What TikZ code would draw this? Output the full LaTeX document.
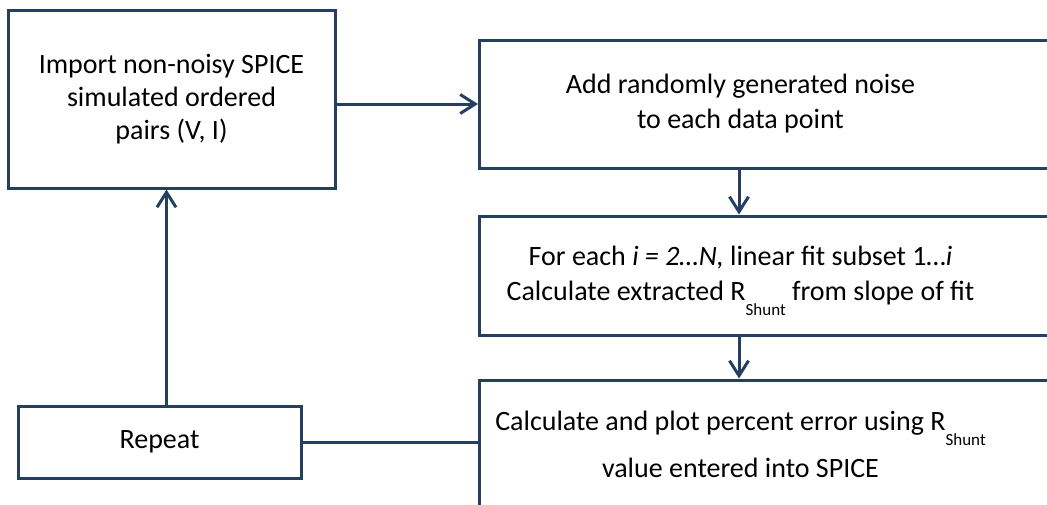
\documentclass[tikz,border=0pt]{standalone}
\usepackage{fontspec}
\setmainfont{Carlito}
\usepackage{tikz}
\usetikzlibrary{arrows.meta,positioning}
\definecolor{boxline}{HTML}{243F60}
\newcommand{\rtext}[1]{\parbox{522pt}{\centering #1}\hspace*{178pt}}
\newcommand{\shunt}{\smash{\raisebox{-15pt}{\fontsize{17}{17}\selectfont Shunt}}}

\begin{document}
\begin{tikzpicture}[x=1pt,y=-1pt,font=\fontsize{28}{35}\selectfont]
    \tikzstyle{box}=[rectangle,draw=boxline,line width=3pt,inner sep=0pt,text=black]
    \tikzstyle{left box}=[box,align=center,minimum width=327pt,minimum height=178pt]
    \tikzstyle{repeat box}=[box,minimum width=283pt,minimum height=72pt]
    \tikzstyle{right box}=[box,anchor=west,minimum width=700pt]
    \tikzstyle{flow}=[draw=boxline,line width=3pt,-{Straight Barb[length=15pt,width=19pt]}]
    \tikzstyle{link}=[draw=boxline,line width=3pt]

    \useasboundingbox (0,0) rectangle (1047,504);
    \clip (0,0) rectangle (1047,504);

    % Left column
    \node[left box,font=\fontsize{28}{33}\selectfont] (imp) at (171.5,99)
        {Import non-noisy SPICE\\simulated ordered\\pairs (V, I)};
    \node[repeat box] (rep) at (159.5,442) {Repeat};

    % Right column
    \node[right box,minimum height=128pt] (add) at (478,104)
        {\rtext{Add randomly generated noise\\to each data point}};
    \node[right box,minimum height=119pt] (fit) at (478,275.5)
        {\rtext{For each \textit{i = 2…N,} linear fit subset 1…\textit{i}\\
         Calculate extracted R\shunt\ from slope of fit}};
    \node[right box,minimum height=134pt] (err) at (478,447)
        {\rtext{\vspace*{-6pt}Calculate and plot percent error using R\shunt\\[12pt]
         value entered into SPICE}};

    % Connectors
    \draw[flow] (imp.east |- add.west) -- (add.west);
    \draw[flow] ([xshift=261pt]add.south west) -- ([xshift=261pt]fit.north west);
    \draw[flow] ([xshift=261pt]fit.south west) -- ([xshift=261pt]err.north west);
    \draw[link] (err.west |- rep.east) -- (rep.east);
    \draw[flow] ([xshift=7pt]rep.north) -- ([xshift=7pt]rep.north |- imp.south);

\end{tikzpicture}
\end{document}
